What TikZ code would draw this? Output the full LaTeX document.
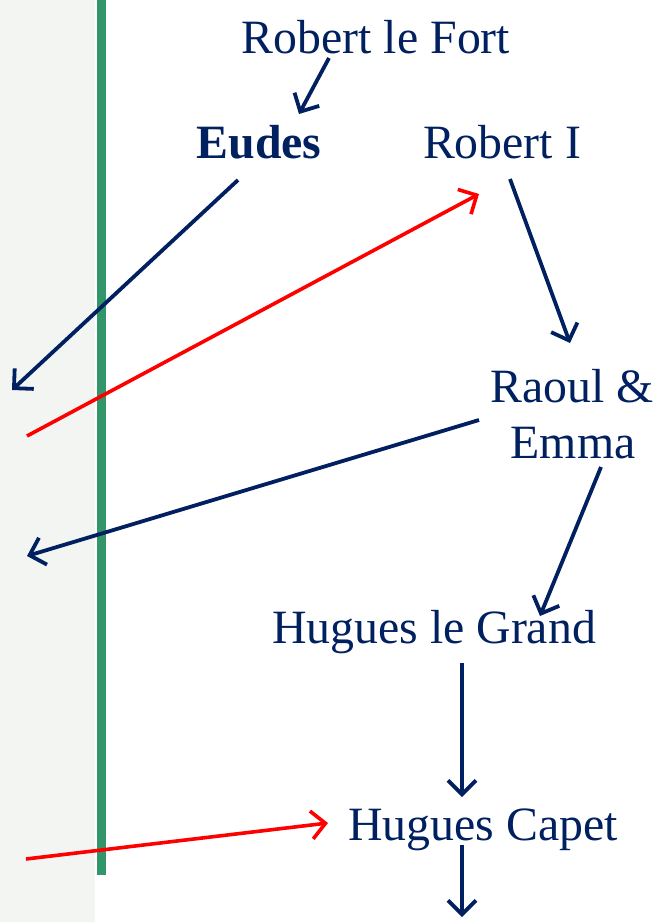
\documentclass[tikz,border=0pt]{standalone}
\usepackage{fontspec}
\setmainfont{Liberation Serif}
\usetikzlibrary{arrows.meta}
\definecolor{navy}{RGB}{0,32,96}
\definecolor{stripgray}{RGB}{243,245,242}
\definecolor{bargreen}{RGB}{51,150,107}
\definecolor{redline}{RGB}{255,0,0}
\tikzset{
  person/.style={inner sep=0pt, anchor=base, text=navy, font=\fontsize{47.8}{56}\selectfont},
  link/.style={draw=navy, line width=3.8pt, -{Straight Barb[length=14pt,width=28pt,line width=3.8pt]}},
  redlink/.style={draw=redline, line width=3.6pt, -{Straight Barb[length=14pt,width=28pt,line width=3.6pt]}}
}
\begin{document}
\begin{tikzpicture}[x=1pt,y=-1pt]
\useasboundingbox (0,0) rectangle (653,922);
\fill[white] (0,0) rectangle (653,922);
\fill[stripgray] (0,0) rectangle (95,922);
\fill[bargreen] (97,0) rectangle (106,875);

\node[person] (rlf) at (376,53) {Robert le Fort};
\node[person, font=\fontsize{47.8}{56}\selectfont\bfseries] (eudes) at (259,158) {Eudes};
\node[person] (r1) at (502,158) {Robert I};
\node[person] (raoul) at (572,402) {Raoul \&};
\node[person] (emma) at (573,458) {Emma};
\node[person] (hlg) at (434,643) {Hugues le Grand};
\node[person] (hc) at (483,840) {Hugues Capet};

\coordinate (a1s) at (329,58);  \coordinate (a1e) at (299,114);
\coordinate (a2s) at (238,180); \coordinate (a2e) at (12,390);
\coordinate (a3s) at (27,436);  \coordinate (a3e) at (479,194);
\coordinate (a4s) at (510,179); \coordinate (a4e) at (570,343);
\coordinate (a5s) at (479,420); \coordinate (a5e) at (27,556);
\coordinate (a6s) at (601,467); \coordinate (a6e) at (540,616);
\coordinate (a7s) at (462,663); \coordinate (a7e) at (462,797);
\coordinate (a8s) at (26,859);  \coordinate (a8e) at (328,823);
\coordinate (a9s) at (462,845); \coordinate (a9e) at (462,917);

\draw[link] (a1s) -- (a1e);
\draw[link] (a2s) -- (a2e);
\draw[redlink] (a3s) -- (a3e);
\draw[link] (a4s) -- (a4e);
\draw[link] (a5s) -- (a5e);
\draw[link] (a6s) -- (a6e);
\draw[link] (a7s) -- (a7e);
\draw[redlink] (a8s) -- (a8e);
\draw[link] (a9s) -- (a9e);
\end{tikzpicture}
\end{document}
